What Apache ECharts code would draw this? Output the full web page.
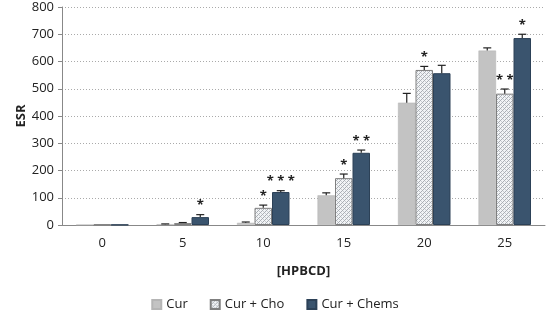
<!DOCTYPE html>
<html><head><meta charset="utf-8">
<script src="https://cdn.jsdelivr.net/npm/echarts@6/dist/echarts.min.js"></script>
<style>html,body{margin:0;padding:0;background:#fff}#c{width:550px;height:322px}</style>
</head><body><div id="c"></div>
<script>
const categories = ['0','5','10','15','20','25'];
const seriesNames = ['Cur','Cur + Cho','Cur + Chems'];
const curValues   = [1, 3, 8, 109, 449, 640];
const choValues   = [2, 7, 63, 172, 569, 482];
const chemsValues = [1, 29, 121, 265, 557, 686];
const curErr   = [0, 1, 3, 9, 34, 10];
const choErr   = [0, 2, 10, 15, 13, 17];
const chemsErr = [0, 9, 5, 10, 29, 14];
const curSig   = ['', '', '', '', '', ''];
const choSig   = ['', '', '*', '*', '*', '**'];
const chemsSig = ['', '*', '***', '**', '', '*'];
const yTicks = [0,100,200,300,400,500,600,700,800];

const pc = document.createElement('canvas');
pc.width = 4; pc.height = 4;
const g = pc.getContext('2d');
g.fillStyle = '#f2f4f6'; g.fillRect(0,0,4,4);
g.fillStyle = '#a9aeb4';
g.fillRect(0,0,1,1); g.fillRect(2,2,1,1); g.fillRect(1,3,1,1); g.fillRect(3,1,1,1);
g.fillStyle = '#c9cdd2';
g.fillRect(1,1,1,1); g.fillRect(3,3,1,1);

const font = '"Open Sans", sans-serif';
const chart = echarts.init(document.getElementById('c'));
const sets = [
  {name: seriesNames[0], v: curValues, e: curErr, s: curSig, style: {color:'#c3c3c3', borderColor:'#b5b5b5', borderWidth:0.5}},
  {name: seriesNames[1], v: choValues, e: choErr, s: choSig, style: {color:{image:pc, repeat:'repeat'}, borderColor:'#7f7f7f', borderWidth:1}},
  {name: seriesNames[2], v: chemsValues, e: chemsErr, s: chemsSig, style: {color:'#3a546e', borderColor:'#2c4157', borderWidth:1}}
];
const series = [];
sets.forEach((st, k) => {
  series.push({name: st.name, type:'bar', data: st.v, barWidth: 17.5, barGap: '0%', itemStyle: st.style, z:2});
});
sets.forEach((st, k) => {
  series.push({
    type:'custom', name: st.name + ' err', silent:true, z:5,
    data: st.v.map((v,i)=>[i, v, st.e[i], st.s[i]]),
    renderItem: function(params, api){
      const i = api.value(0), v = api.value(1), e = api.value(2), sig = st.s[i];
      const base = api.coord([i, v]);
      const x = base[0] + (k-1)*17.5;
      const top = api.coord([i, v+e]);
      const ch = [];
      if (e > 0) {
        ch.push({type:'line', shape:{x1:x, y1:base[1], x2:x, y2:top[1]}, style:{stroke:'#222', lineWidth:1.2}});
        ch.push({type:'line', shape:{x1:x-4, y1:top[1], x2:x+4, y2:top[1]}, style:{stroke:'#222', lineWidth:1.2}});
      }
      if (sig) {
        ch.push({type:'text', style:{text: sig.split('').join(' '), x:x, y:top[1]-9, align:'center', verticalAlign:'middle', font:'bold 13px ' + font, fill:'#222'}});
      }
      return {type:'group', children: ch};
    }
  });
});
chart.setOption({
  animation:false,
  grid:{left:62, right:5, top:7, bottom:97},
  legend:{data: seriesNames.map(n => ({name:n, icon:'rect'})), bottom:6, left:'center', itemWidth:9, itemHeight:9, itemGap:22,
    textStyle:{fontFamily:font, fontSize:13, color:'#222'}},
  xAxis:{type:'category', data:categories, name:'[HPBCD]', nameLocation:'middle', nameGap:40,
    nameTextStyle:{fontFamily:font, fontWeight:'bold', fontSize:13, color:'#222'},
    axisLine:{lineStyle:{color:'#888'}}, axisTick:{length:5, lineStyle:{color:'#888'}},
    axisLabel:{fontFamily:font, fontSize:13, color:'#222', margin:12}},
  yAxis:{type:'value', min:0, max:800, interval:100, name:'ESR', nameLocation:'middle', nameGap:34, nameMoveOverlap:false,
    nameTextStyle:{fontFamily:font, fontWeight:'bold', fontSize:13, color:'#222'},
    axisLine:{show:true, lineStyle:{color:'#888'}}, axisTick:{show:true, length:4, inside:false, lineStyle:{color:'#888'}},
    axisLabel:{fontFamily:font, fontSize:13, color:'#222', margin:8,
      formatter: v => yTicks.includes(v) ? String(v) : ''},
    splitLine:{lineStyle:{color:'#aaa', type:[1,2]}}},
  series: series
});
</script></body></html>
